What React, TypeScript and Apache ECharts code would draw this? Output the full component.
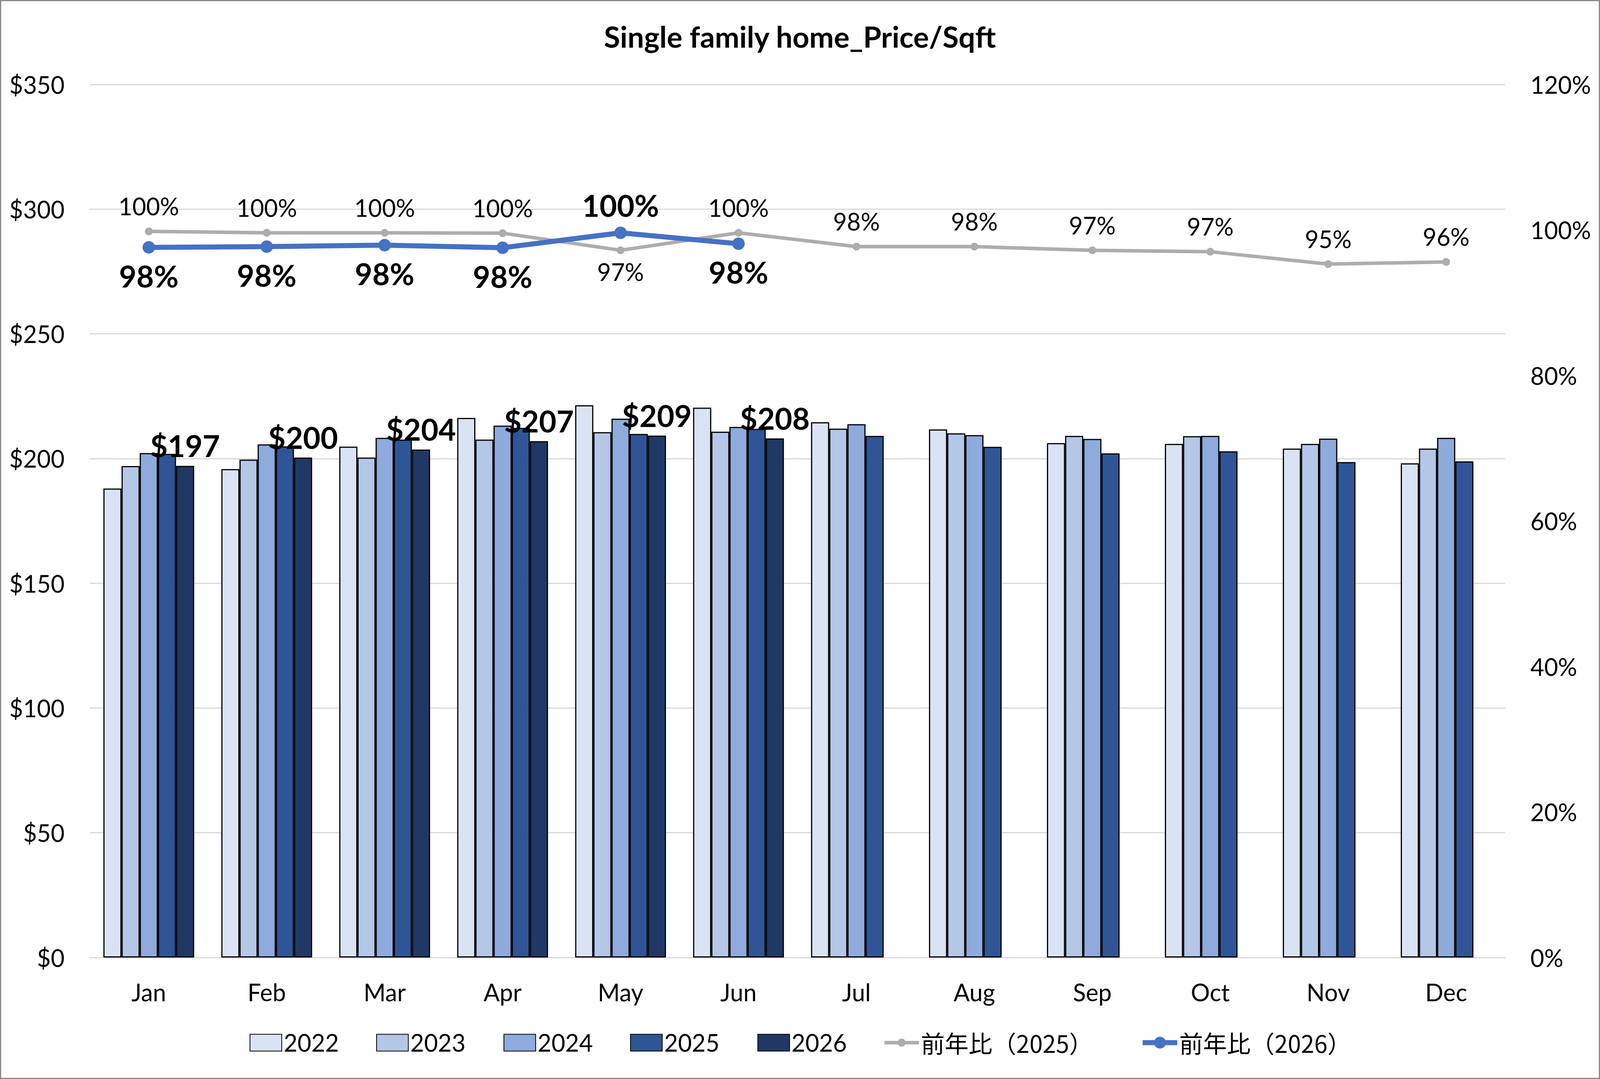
import React, { useEffect, useRef } from 'react';
import * as echarts from 'echarts';

const months = ['Jan', 'Feb', 'Mar', 'Apr', 'May', 'Jun', 'Jul', 'Aug', 'Sep', 'Oct', 'Nov', 'Dec'];
const years = ['2022', '2023', '2024', '2025', '2026'];
const yoyNames = ['前年比（2025）', '前年比（2026）'];

const price2022 = [188.0, 195.8, 204.8, 216.3, 221.4, 220.4, 214.6, 211.7, 206.2, 205.9, 204.0, 198.1];
const price2023 = [197.0, 199.6, 200.4, 207.6, 210.6, 210.8, 212.0, 210.1, 209.1, 209.0, 205.9, 204.0];
const price2024 = [202.2, 205.7, 208.3, 213.2, 216.0, 212.7, 213.8, 209.4, 207.9, 209.1, 208.0, 208.3];
const price2025 = [201.9, 204.9, 207.6, 212.3, 209.9, 211.9, 209.1, 204.7, 202.1, 202.9, 198.6, 198.9];
const price2026 = [197.1, 200.4, 203.6, 207.0, 209.2, 208.1, null, null, null, null, null, null];

const yoy2025 = [99.8, 99.6, 99.6, 99.55, 97.2, 99.6, 97.7, 97.7, 97.2, 97.0, 95.3, 95.6];
const yoy2026 = [97.6, 97.7, 97.9, 97.55, 99.6, 98.1, null, null, null, null, null, null];

// months where the label sits on the other side of the point
const yoy2025LabelBelow = ['May'];
const yoy2026LabelAbove = ['May'];

const leftTicks = { min: 0, max: 350, interval: 50 };
const rightTicks = { min: 0, max: 120, interval: 20 };

const barColors = ['#DAE3F3', '#B4C7E7', '#8FAADC', '#2F5597', '#203864'];
const lineColors = ['#ADADAD', '#4472C4'];
const FONT = 'Lato, "Noto Sans", sans-serif';
const CJK = '"Noto Sans CJK JP", "Noto Sans", sans-serif';

// reference design size
const REF_W = 4436;
const REF_H = 2762;

export default function App() {
  const ref = useRef<HTMLDivElement>(null);
  const W = typeof window !== 'undefined' ? Math.min(window.innerWidth || REF_W, REF_W) : REF_W;
  const H = typeof window !== 'undefined' ? Math.min(window.innerHeight || REF_H, REF_H) : REF_H;

  useEffect(() => {
    if (!ref.current) return;
    const chart = echarts.init(ref.current, null, { renderer: 'svg' });
    const sx = W / REF_W;
    const sy = H / REF_H;
    const f = Math.sqrt(sx * sy);
    const X = (v: number) => v * sx;
    const Y = (v: number) => v * sy;
    const F = (v: number) => Math.round(v * f);

    const prices = [price2022, price2023, price2024, price2025, price2026];

    const barSeries = years.map((y, i) => ({
      name: y,
      type: 'bar',
      yAxisIndex: 0,
      data: prices[i],
      barGap: '0%',
      barCategoryGap: '23%',
      itemStyle: { color: barColors[i], borderColor: '#000', borderWidth: 3 },
      label:
        i === years.length - 1
          ? {
              show: true,
              position: 'top',
              distance: 14,
              formatter: (p: any) => '$' + Math.round(p.value),
              fontFamily: FONT,
              fontWeight: 'bold',
              fontSize: F(80),
              color: '#000',
            }
          : { show: false },
      z: 2,
    }));

    const grayLabel = {
      show: true,
      position: 'top',
      distance: 24,
      formatter: (p: any) => Math.round(p.value) + '%',
      fontFamily: FONT,
      fontSize: F(64),
      color: '#000',
    };
    const blueLabel = {
      show: true,
      position: 'bottom',
      distance: 18,
      formatter: (p: any) => Math.round(p.value) + '%',
      fontFamily: FONT,
      fontWeight: 'bold',
      fontSize: F(80),
      color: '#000',
    };

    const grayData = yoy2025.map((v, i) =>
      yoy2025LabelBelow.includes(months[i]) ? { value: v, label: { position: 'bottom', distance: 14 } } : v
    );
    const blueData = yoy2026.map((v, i) =>
      yoy2026LabelAbove.includes(months[i]) && v != null
        ? { value: v, label: { position: 'top', distance: 16 } }
        : v
    );

    // legend item starts in the reference (x of the symbol's left edge)
    const barLegendLeft = [692, 1043, 1396, 1747, 2100];
    const lineLegendLeft = [2447, 3161];
    const legendCenterY = 2675;

    const legends: any[] = [
      ...years.map((y, i) => ({
        data: [y],
        left: X(barLegendLeft[i]),
        top: Y(legendCenterY) - F(64) * 0.6,
        padding: 0,
        icon: 'rect',
        itemWidth: X(88),
        itemHeight: Y(43),
        textStyle: { fontFamily: FONT, fontSize: F(64), color: '#000' },
      })),
      ...yoyNames.map((n, i) => ({
        data: [{ name: n, lineStyle: { width: i === 0 ? 9 : 13, color: lineColors[i] } }],
        left: X(lineLegendLeft[i]),
        top: Y(legendCenterY) - F(64) * 0.6,
        padding: 0,
        itemWidth: X(96),
        itemHeight: Y(i === 0 ? 26 : 38),
        textStyle: { fontFamily: CJK, fontSize: F(64), color: '#000' },
      })),
    ];

    const option = {
      animation: false,
      backgroundColor: '#fff',
      title: {
        text: 'Single family home_Price/Sqft',
        left: 'center',
        top: Y(50),
        textStyle: { fontFamily: FONT, fontWeight: 'bold', fontSize: F(78), color: '#000' },
      },
      graphic: [
        {
          type: 'rect',
          silent: true,
          shape: { x: 1.5, y: 1.5, width: W - 3, height: H - 3 },
          style: { fill: 'none', stroke: '#8a8a8a', lineWidth: 3 },
        },
      ],
      legend: legends,
      grid: { left: X(249), right: X(263), top: Y(216), bottom: Y(311), containLabel: false },
      xAxis: {
        type: 'category',
        data: months,
        axisTick: { show: false },
        axisLine: { lineStyle: { color: '#D9D9D9', width: 3 } },
        axisLabel: { fontFamily: FONT, fontSize: F(64), color: '#000', margin: Y(58) },
      },
      yAxis: [
        {
          type: 'value',
          position: 'left',
          min: leftTicks.min,
          max: leftTicks.max,
          interval: leftTicks.interval,
          axisLine: { show: false },
          axisTick: { show: false },
          axisLabel: {
            fontFamily: FONT,
            fontSize: F(64),
            color: '#000',
            margin: X(70),
            formatter: (v: number) => '$' + v,
          },
          splitLine: { lineStyle: { color: '#D9D9D9', width: 3 } },
        },
        {
          type: 'value',
          position: 'right',
          min: rightTicks.min,
          max: rightTicks.max,
          interval: rightTicks.interval,
          axisLine: { show: false },
          axisTick: { show: false },
          axisLabel: {
            fontFamily: FONT,
            fontSize: F(64),
            color: '#000',
            margin: X(70),
            formatter: (v: number) => v + '%',
          },
          splitLine: { show: false },
        },
      ],
      series: [
        ...barSeries,
        {
          name: yoyNames[0],
          type: 'line',
          yAxisIndex: 1,
          data: grayData,
          symbol: 'circle',
          symbolSize: 20,
          lineStyle: { color: lineColors[0], width: 9 },
          itemStyle: { color: lineColors[0] },
          label: grayLabel,
          z: 5,
        },
        {
          name: yoyNames[1],
          type: 'line',
          yAxisIndex: 1,
          data: blueData,
          symbol: 'circle',
          symbolSize: 32,
          lineStyle: { color: lineColors[1], width: 13 },
          itemStyle: { color: lineColors[1] },
          label: blueLabel,
          z: 6,
        },
      ],
    };

    chart.setOption(option as any);
    return () => chart.dispose();
  }, []);

  return (
    <div
      ref={ref}
      style={{ position: 'absolute', left: 0, top: 0, width: W, height: H, background: '#fff' }}
    />
  );
}
